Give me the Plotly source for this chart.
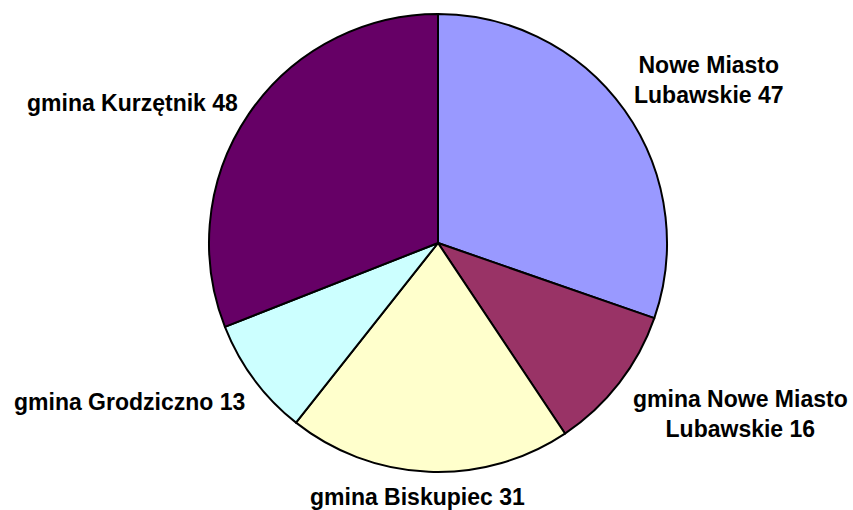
import plotly.graph_objects as go

# Data
names = ["Nowe Miasto<br>Lubawskie", "gmina Nowe Miasto<br>Lubawskie", "gmina Biskupiec",
         "gmina Grodziczno", "gmina Kurzętnik"]
values = [47, 16, 31, 13, 48]
colors = ["#9999FF", "#993366", "#FFFFCC", "#CCFFFF", "#660066"]

W, H = 853, 510
cx, cy, r = 438, 243, 229

fig = go.Figure(go.Pie(
    labels=[n.replace("<br>", " ") for n in names],
    values=values,
    sort=False,
    direction="clockwise",
    rotation=0,
    marker=dict(colors=colors, line=dict(color="black", width=2)),
    textinfo="none",
    hoverinfo="skip",
    showlegend=False,
    domain=dict(x=[(cx - r) / W, (cx + r) / W], y=[1 - (cy + r) / H, 1 - (cy - r) / H]),
))

# label positions (pixels)
label_pos = [(709, 80), (740, 414), (417, 497), (129, 402), (132, 103)]
for n, v, (px, py) in zip(names, values, label_pos):
    fig.add_annotation(
        x=px / W, y=1 - py / H, xref="paper", yref="paper",
        text=f"<b>{n} {v}</b>", showarrow=False,
        xanchor="center", yanchor="middle", align="center",
        font=dict(family="Liberation Sans, Arial, sans-serif", size=23, color="black"),
    )

fig.update_layout(
    width=W, height=H,
    margin=dict(l=0, r=0, t=0, b=0),
    paper_bgcolor="white", plot_bgcolor="white",
)

fig.write_html("out.html", config={"displayModeBar": False},
               post_script="document.body.style.margin='0';document.body.style.overflow='hidden';")
